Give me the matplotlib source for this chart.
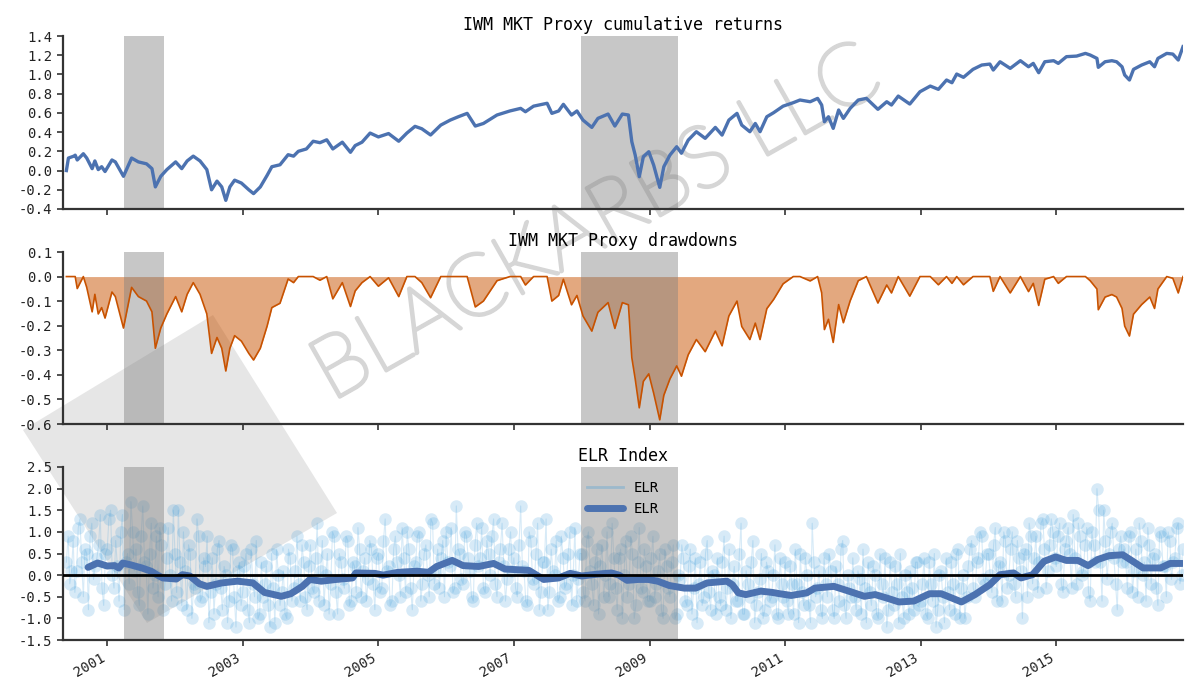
import numpy as np
import pandas as pd
import matplotlib
matplotlib.use("Agg")
import matplotlib.pyplot as plt
import matplotlib.dates as mdates
import matplotlib.ticker as mticker
import matplotlib.patheffects as pe
from matplotlib.patches import Polygon
from matplotlib.lines import Line2D

# ---------------- data (decimal years) ----------------
cum_t = [
    2000.40, 2000.43, 2000.51, 2000.53, 2000.56, 2000.65, 2000.70, 2000.78, 2000.82, 2000.87, 2000.92, 2000.97,
    2001.07, 2001.12, 2001.24, 2001.36, 2001.46, 2001.58, 2001.66, 2001.71, 2001.79, 2001.88, 2002.01,
    2002.10, 2002.18, 2002.27, 2002.37, 2002.47, 2002.54, 2002.62, 2002.69, 2002.75, 2002.81, 2002.88, 2002.98,
    2003.09, 2003.16, 2003.26, 2003.36, 2003.43, 2003.55, 2003.67, 2003.75, 2003.82, 2003.94,
    2004.04, 2004.14, 2004.24, 2004.33, 2004.47, 2004.59, 2004.66, 2004.76, 2004.88, 2005.00,
    2005.15, 2005.30, 2005.42, 2005.54, 2005.64,
    2005.77, 2005.92, 2006.06, 2006.18, 2006.31, 2006.43, 2006.55, 2006.75, 2006.94,
    2007.10, 2007.17, 2007.29, 2007.49, 2007.56, 2007.66, 2007.73, 2007.85, 2007.93, 2008.02,
    2008.15, 2008.24, 2008.39, 2008.49, 2008.60, 2008.69, 2008.74, 2008.79, 2008.85, 2008.91, 2008.99,
    2009.06, 2009.15, 2009.21, 2009.30, 2009.40, 2009.47, 2009.57, 2009.69, 2009.82, 2009.97,
    2010.07, 2010.17, 2010.29, 2010.36, 2010.48, 2010.56, 2010.63, 2010.73, 2010.83, 2010.97,
    2011.12, 2011.22, 2011.37, 2011.48, 2011.54, 2011.58, 2011.64, 2011.71, 2011.79, 2011.86, 2011.96,
    2012.08, 2012.20, 2012.37, 2012.50, 2012.57, 2012.67, 2012.84, 2012.99,
    2013.14, 2013.26, 2013.38, 2013.46, 2013.53, 2013.63, 2013.77, 2013.90, 2014.02, 2014.07,
    2014.17, 2014.32, 2014.47, 2014.59, 2014.66, 2014.74, 2014.83, 2014.96, 2015.03,
    2015.15, 2015.30, 2015.43, 2015.50, 2015.60, 2015.62, 2015.72, 2015.82, 2015.89, 2015.97, 2016.01, 2016.08,
    2016.14, 2016.26, 2016.38, 2016.45, 2016.50, 2016.63, 2016.72, 2016.80, 2016.87,
]
cum_ret = [
    0.00, 0.13, 0.15, 0.16, 0.11, 0.175, 0.13, 0.02, 0.10, 0.01, 0.04, -0.01,
    0.11, 0.09, -0.06, 0.13, 0.09, 0.07, 0.02, -0.17, -0.06, 0.01, 0.09,
    0.02, 0.10, 0.15, 0.10, 0.01, -0.20, -0.11, -0.17, -0.31, -0.17, -0.10, -0.13,
    -0.20, -0.24, -0.17, -0.05, 0.04, 0.06, 0.165, 0.15, 0.20, 0.225,
    0.305, 0.29, 0.32, 0.225, 0.295, 0.19, 0.26, 0.295, 0.39, 0.35,
    0.385, 0.305, 0.39, 0.46, 0.435,
    0.37, 0.473, 0.525, 0.56, 0.595, 0.463, 0.49, 0.578, 0.62,
    0.647, 0.612, 0.67, 0.70, 0.595, 0.62, 0.689, 0.578, 0.62, 0.525,
    0.449, 0.543, 0.588, 0.463, 0.588, 0.578, 0.30, 0.161, -0.064, 0.144, 0.196,
    0.057, -0.175, 0.04, 0.161, 0.248, 0.18, 0.317, 0.404, 0.335, 0.449,
    0.369, 0.525, 0.595, 0.473, 0.404, 0.49, 0.404, 0.56, 0.602, 0.67,
    0.706, 0.734, 0.716, 0.751, 0.682, 0.508, 0.56, 0.439, 0.63, 0.543, 0.647,
    0.734, 0.751, 0.637, 0.716, 0.682, 0.775, 0.692, 0.82,
    0.879, 0.845, 0.942, 0.914, 1.004, 0.970, 1.053, 1.098, 1.108, 1.046,
    1.132, 1.063, 1.143, 1.080, 1.115, 1.018, 1.132, 1.143, 1.115,
    1.185, 1.191, 1.219, 1.202, 1.167, 1.074, 1.132, 1.143, 1.132, 1.080, 0.994, 0.942,
    1.053, 1.098, 1.132, 1.080, 1.167, 1.219, 1.212, 1.150, 1.289,
]

elr_mean_t = [
    2000.72, 2000.86, 2001.00, 2001.11, 2001.17, 2001.23, 2001.34, 2001.51, 2001.65, 2001.74, 2001.82,
    2002.02, 2002.11, 2002.22, 2002.36, 2002.47, 2002.69, 2002.92, 2003.15, 2003.32, 2003.57, 2003.71,
    2003.88, 2003.99, 2004.16, 2004.38, 2004.62, 2004.67, 2004.95, 2005.07, 2005.29, 2005.57, 2005.74,
    2005.86, 2006.09, 2006.25, 2006.48, 2006.70, 2006.87, 2007.22, 2007.44, 2007.66, 2007.83, 2008.00,
    2008.22, 2008.44, 2008.55, 2008.67, 2008.84, 2008.98, 2009.12, 2009.29, 2009.51, 2009.68, 2009.85,
    2010.14, 2010.22, 2010.31, 2010.42, 2010.64, 2010.81, 2010.92, 2011.09, 2011.32, 2011.44, 2011.72,
    2011.94, 2012.17, 2012.33, 2012.50, 2012.68, 2012.90, 2013.13, 2013.30, 2013.46, 2013.60, 2013.80,
    2014.02, 2014.17, 2014.37, 2014.48, 2014.65, 2014.82, 2014.99, 2015.15, 2015.32, 2015.47, 2015.61,
    2015.78, 2015.98, 2016.09, 2016.28, 2016.54, 2016.68, 2016.86,
]
elr_mean = [
    0.18, 0.28, 0.21, 0.22, 0.166, 0.28, 0.24, 0.166, 0.089, 0.0, -0.065,
    -0.09, 0.01, -0.02, -0.20, -0.26, -0.18, -0.14, -0.18, -0.40, -0.49, -0.43,
    -0.26, -0.10, -0.14, -0.10, -0.065, 0.05, 0.04, 0.0, 0.065, 0.09, 0.065,
    0.20, 0.34, 0.22, 0.20, 0.27, 0.14, 0.11, -0.10, -0.065, 0.04, -0.02,
    0.02, 0.05, 0.0, -0.12, -0.10, -0.10, -0.14, -0.24, -0.30, -0.30, -0.18,
    -0.14, -0.22, -0.41, -0.45, -0.37, -0.40, -0.43, -0.47, -0.41, -0.30, -0.26,
    -0.37, -0.49, -0.45, -0.53, -0.62, -0.60, -0.43, -0.43, -0.53, -0.62, -0.45,
    -0.22, 0.01, 0.05, -0.065, 0.01, 0.32, 0.42, 0.34, 0.34, 0.22, 0.36,
    0.45, 0.47, 0.36, 0.166, 0.166, 0.27, 0.27,
]

elr_start = 2000.40   # first ELR observation (decimal year)
elr_step = 0.05       # each list read every ~18 days, second list offset by half a step
elr_vals_a = [
    0.3, -0.2, 0.8, 0.1, 1.3, -0.5, 0.5, 0.9, -0.1, 0.4, 1.4, -0.7,
    0.6, 1.5, -0.3, 0.2, 1.0, -0.8, 0.5, 1.7, 0.1, -0.4, 0.9, 0.3, -0.9, 1.2, 0.0, -0.5, 0.7, -0.2, 1.1, -0.6,
    0.5, 1.5, -0.7, 0.1, 0.7, -1.0, -0.3, 0.9, -0.5, 0.2, -1.1, 0.4, -0.2, 0.8, -0.8, 0.0, -0.6, 0.6, -1.2, 0.3,
    -0.4, 0.5, -1.1, -0.2, 0.8, -0.9, -0.5, 0.2, -1.2, -0.3, 0.6, -0.7, 0.1, -1.0, 0.4, -0.3, 0.9, -0.6, 0.3, -0.8,
    0.7, -0.4, 1.2, 0.1, -0.7, 0.5, -0.2, 0.9, -0.9, 0.3, -0.3, 0.8, -0.6, 0.2, 1.1, -0.5, 0.4, -0.1, 0.6, -0.8,
    0.5, -0.3, 1.3, 0.2, -0.6, 0.9, 0.0, 1.1, -0.4, 0.6, -0.8, 0.3, 1.0, -0.2, 0.7, -0.5, 1.2, 0.1, -0.3, 0.8,
    1.0, 0.2, -0.4, 1.6, 0.5, -0.2, 0.9, 0.1, -0.6, 1.2, 0.4, -0.3, 0.8, 0.0, 1.3, -0.5, 0.6, 0.2, -0.1, 1.0,
    0.4, -0.5, 1.6, 0.1, -0.7, 0.8, -0.2, 1.2, -0.4, 0.3, -0.8, 0.6, 0.0, -0.6, 0.9, -0.3, 0.5, -0.7, 1.1, -0.1,
    0.5, -0.6, 1.0, -0.2, 0.3, -0.9, 0.7, 0.0, -0.5, 1.2, -0.3, 0.4, -1.0, 0.8, -0.2, 0.5, -0.7, 1.1, -0.4, 0.2,
    -0.6, 0.9, -0.2, 0.5, -1.0, 0.2, -0.5, 0.7, -0.9, -0.1, 0.4, -0.7, 0.6, -0.3, -1.1, 0.3, -0.5, 0.8, -0.8, 0.0,
    0.4, -0.7, 0.9, -0.3, -1.0, 0.2, -0.6, 1.2, -0.9, -0.2, 0.3, -1.1, -0.4, 0.5, -0.8, 0.1, -0.5, 0.7, -1.0, -0.2,
    0.3, -0.9, -0.2, 0.6, -1.1, -0.4, 0.4, -0.7, 1.2, -0.5, 0.1, -1.0, -0.2, 0.5, -0.8, 0.2, -0.6, 0.8, -1.0, -0.3,
    0.4, -0.8, -0.1, 0.6, -1.1, -0.4, 0.2, -0.9, 0.5, -0.5, -1.2, 0.3, -0.7, -0.2, 0.5, -1.0, -0.4, 0.1, -0.8, 0.3,
    -0.6, 0.4, -1.0, -0.2, 0.5, -0.8, 0.1, -1.1, -0.4, 0.3, -0.9, 0.6, -0.3, -1.0, 0.2, 0.8, -0.5, 0.4, 0.9, -0.2,
    0.5, -0.4, 1.1, 0.2, -0.6, 0.8, 0.0, 1.0, -0.5, 0.4, -1.0, 0.6, 1.2, -0.2, 0.9, 0.3, 1.3, -0.3, 0.7, 1.0,
    0.2, 1.2, -0.4, 0.8, 0.5, 1.4, -0.2, 0.9, 0.1, 1.1, -0.6, 0.7, 2.0, 0.3, 1.5, -0.1, 1.0, 0.4, -0.8, 0.9,
    0.6, -0.3, 1.0, 0.1, -0.5, 0.8, 0.3, 1.1, -0.2, 0.5, -0.7, 0.9, 0.2, 1.0, -0.1, 0.4, 1.2, 0.0,
]
elr_vals_b = [
    0.9, 0.1, -0.4, 1.1, 0.3, 0.6, -0.8, 1.2, 0.2, 0.7, -0.3, 0.5,
    1.3, 0.0, 0.8, -0.6, 1.4, 0.3, -0.2, 1.0, 0.6, -0.7, 1.6, 0.2, 0.5, -0.3, 0.9, 1.1, -0.8, 0.4, 0.0, 1.5,
    -0.4, 0.3, 1.0, -0.8, 0.5, -0.2, 1.3, -0.6, 0.4, 0.9, -0.4, -0.9, 0.6, -0.3, 0.2, -1.1, 0.7, -0.5, 0.1, -0.7,
    0.2, -0.8, 0.6, -0.5, -1.0, 0.3, -0.2, -0.7, 0.5, -1.1, 0.0, -0.4, -0.9, 0.6, -0.6, 0.1, -0.2, 0.7, -0.5, 0.2,
    -0.3, 0.4, -0.6, 0.8, 0.0, -0.9, 1.0, -0.4, 0.5, -0.1, 0.9, -0.7, 0.3, -0.4, 0.6, 0.1, -0.6, 0.8, -0.2, 0.4,
    -0.4, 0.8, 0.1, -0.7, 0.6, 0.3, -0.5, 0.4, 1.0, -0.3, 0.2, 0.9, -0.6, 0.5, 0.0, 1.3, -0.2, 0.6, 0.4, -0.5,
    0.3, 1.1, -0.3, 0.6, -0.1, 1.0, 0.4, -0.5, 0.7, 0.2, 1.1, -0.4, 0.5, 0.9, -0.2, 0.3, 1.2, -0.6, 0.6, 0.1,
    -0.3, 0.7, 0.2, -0.6, 1.0, -0.1, 0.5, -0.8, 0.3, 1.3, -0.4, 0.1, 0.8, -0.5, 0.4, -0.2, 1.0, 0.0, -0.6, 0.5,
    -0.4, 0.8, 0.1, -0.7, 0.6, 0.2, -0.5, 1.0, -0.2, 0.4, -0.8, 0.6, 0.0, -0.5, 0.9, -1.0, 0.3, -0.3, 0.6, -0.6,
    0.4, -0.5, 0.1, -0.8, 0.6, -0.3, 0.3, -1.0, 0.0, 0.7, -0.6, 0.2, -0.9, 0.4, -0.2, -0.7, 0.5, -0.4, 0.1, -0.9,
    -0.5, 0.3, -0.8, 0.6, -0.2, -0.6, 0.5, -0.9, 0.1, -0.5, 0.8, -0.7, -0.1, -1.0, 0.3, -0.6, 0.0, -0.9, 0.4, -0.5,
    -0.6, 0.2, -0.9, -0.2, 0.5, -0.7, 0.0, -1.1, 0.3, -0.3, -0.8, 0.4, -0.5, 0.1, -1.0, -0.2, 0.6, -0.7, 0.0, -0.5,
    -0.5, 0.1, -0.9, -0.3, 0.3, -0.7, 0.0, -1.0, -0.2, 0.4, -0.8, -0.4, 0.2, -1.1, -0.5, 0.0, -0.9, -0.3, 0.3, -0.7,
    -0.2, -0.9, 0.3, -0.6, -1.2, 0.0, -0.5, 0.4, -0.8, -0.2, 0.5, -1.0, 0.0, -0.5, 0.6, -0.3, 0.3, 1.0, -0.1, 0.5,
    0.0, 0.7, -0.6, 0.3, 1.0, -0.3, 0.6, -0.2, 0.8, 0.1, 0.5, -0.5, 0.9, 0.4, -0.4, 1.2, 0.6, 0.1, 1.3, 0.4,
    0.9, -0.2, 0.6, 1.1, -0.3, 0.4, 1.2, 0.0, 0.7, -0.4, 1.0, 0.3, 1.5, -0.6, 0.8, 0.5, 1.2, -0.2, 0.6, 0.3,
    0.3, 0.9, -0.4, 0.6, 1.2, 0.0, -0.6, 0.7, 0.4, -0.3, 1.0, 0.2, -0.5, 0.8, 0.3, 1.1, -0.2, 0.6,
]

rec_start = ["2001-03-31", "2007-12-31"]
rec_end = ["2001-11-01", "2009-06-01"]

x_start, x_end = 2000.35, 2016.87
year_ticks = [2001, 2003, 2005, 2007, 2009, 2011, 2013, 2015]


def to_dates(years):
    ys = np.asarray(years, dtype=float)
    whole = np.floor(ys).astype(int)
    frac = ys - whole
    base = pd.to_datetime([f"{y}-01-01" for y in whole])
    return base + pd.to_timedelta(frac * 365.25, unit="D")


cum_dates = to_dates(cum_t)
cum_arr = np.array(cum_ret)
# drawdowns of the log-cumulative return series
drawdown = np.exp(cum_arr - np.maximum.accumulate(cum_arr)) - 1.0
mean_dates = to_dates(elr_mean_t)
# interleave the two read-off lists in time order
n_obs = len(elr_vals_a)
elr_t = np.column_stack([elr_start + elr_step * np.arange(n_obs),
                         elr_start + elr_step * (np.arange(n_obs) + 0.5)]).ravel()
elr_vals = np.column_stack([elr_vals_a, elr_vals_b]).ravel()
elr_dates = to_dates(elr_t)

# ---------------- styling ----------------
plt.rcParams["font.family"] = ["DejaVu Sans Mono", "DejaVu Sans"]
axis_col = "#333333"
blue = "#4c72b0"
orange = "#c85200"
dot_blue = "#3a9ad9"

fig = plt.figure(figsize=(12, 7), dpi=100)
left, width = 63 / 1200, 1120 / 1200
ax1 = fig.add_axes([left, 1 - 209 / 700, width, 173 / 700])
ax2 = fig.add_axes([left, 1 - 424 / 700, width, 172 / 700], sharex=ax1)
ax3 = fig.add_axes([left, 1 - 640 / 700, width, 173 / 700], sharex=ax1)

# watermark logo (behind axes)
logo_px = [(213, 315), (337, 513), (147, 623), (23, 430)]
logo = Polygon([(x / 1200, 1 - y / 700) for x, y in logo_px], closed=True,
               transform=fig.transFigure, facecolor="#8f8f8f", alpha=0.22,
               edgecolor="none", zorder=-5)
fig.patches.append(logo)


def ticks(lo, hi, step):
    n = int(round((hi - lo) / step)) + 1
    return np.round(np.linspace(lo, hi, n), 1) + 0.0


for ax in (ax1, ax2, ax3):
    ax.set_facecolor("none")
    for s in ("top", "right"):
        ax.spines[s].set_visible(False)
    for s in ("left", "bottom"):
        ax.spines[s].set_color(axis_col)
        ax.spines[s].set_linewidth(1.6)
    ax.tick_params(axis="both", colors=axis_col, labelcolor="#222222",
                   direction="out", length=4, width=1.2, labelsize=10)
    ax.yaxis.set_major_formatter(mticker.FormatStrFormatter("%.1f"))
    for s, e in zip(rec_start, rec_end):
        ax.axvspan(pd.Timestamp(s), pd.Timestamp(e), color="#808080",
                   alpha=0.44, lw=0, zorder=1.5)

# panel 1: cumulative returns
ax1.plot(cum_dates, cum_arr, color=blue, lw=2.4, zorder=3)
ax1.set_ylim(-0.4, 1.4)
ax1.set_yticks(ticks(-0.4, 1.4, 0.2))
ax1.set_title("IWM MKT Proxy cumulative returns", fontsize=12, pad=4)

# panel 2: drawdowns
ax2.fill_between(cum_dates, drawdown, 0, color=orange, alpha=0.5, lw=0, zorder=1)
ax2.plot(cum_dates, drawdown, color=orange, lw=1.2, zorder=3)
ax2.set_ylim(-0.6, 0.1)
ax2.set_yticks(ticks(-0.6, 0.1, 0.1))
ax2.set_title("IWM MKT Proxy drawdowns", fontsize=12, pad=4)

# panel 3: ELR index
ax3.plot(elr_dates, elr_vals, color=dot_blue, lw=0.8, marker="o", ms=9,
         mew=0, alpha=0.2, zorder=1)
ax3.plot(mean_dates, elr_mean, color=blue, lw=5, solid_capstyle="round", zorder=3)
ax3.axhline(0, color="black", lw=2, zorder=4)
ax3.set_ylim(-1.5, 2.5)
ax3.set_yticks(ticks(-1.5, 2.5, 0.5))
ax3.set_title("ELR Index", fontsize=12, pad=4)
handles = [Line2D([], [], color=dot_blue, lw=2, alpha=0.3),
           Line2D([], [], color=blue, lw=5, solid_capstyle="round")]
ax3.legend(handles, ["ELR", "ELR"], loc="upper center", frameon=False,
           fontsize=10, handlelength=2.6, borderaxespad=0.6)

ax1.set_xlim(to_dates([x_start])[0], to_dates([x_end])[0])
ax1.set_xticks([pd.Timestamp(f"{y}-01-01") for y in year_ticks])
ax3.xaxis.set_major_formatter(mdates.DateFormatter("%Y"))
plt.setp(ax1.get_xticklabels(), visible=False)
plt.setp(ax2.get_xticklabels(), visible=False)
for lbl in ax3.get_xticklabels():
    lbl.set_rotation(30)
    lbl.set_ha("right")
    lbl.set_fontsize(10)

# watermark text (thin letters, thickened slightly with a stroke)
wm_col = "#d6d6d6"
fig.text(597 / 1200, 1 - 225 / 700, "BLACKARBS LLC", fontsize=62,
         family="Lato", fontweight="light", color=wm_col,
         rotation=29.5, ha="center", va="center", zorder=-4,
         path_effects=[pe.withStroke(linewidth=2.6, foreground=wm_col)])

fig.savefig("out.png", dpi=100)
